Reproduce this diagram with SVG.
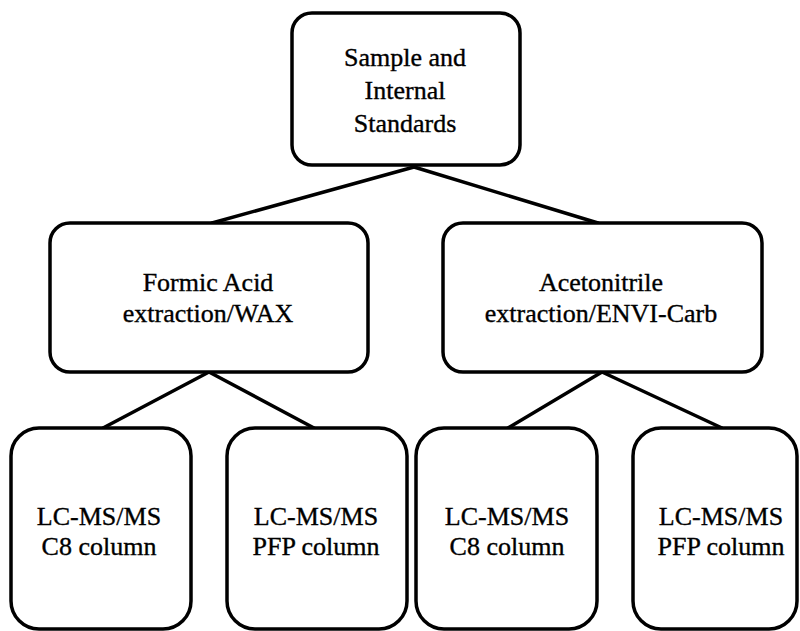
<svg xmlns="http://www.w3.org/2000/svg" width="800" height="631" viewBox="0 0 800 631">
<style>
.box{fill:#fff;stroke:#000;stroke-width:3.5}
.lbl{font-family:"Liberation Serif","Times New Roman",serif;font-size:26px;text-anchor:middle;fill:#000;stroke:#000;stroke-width:0.35}
.conn line{stroke:#000;stroke-width:3.5;stroke-linecap:round}
</style>
<rect width="800" height="631" fill="#fff"/>
<g class="conn" id="connectors">
<line x1="414" y1="167" x2="212" y2="223"/>
<line x1="414" y1="167" x2="598" y2="223"/>
<line x1="209" y1="372" x2="103" y2="428"/>
<line x1="209" y1="372" x2="314" y2="428"/>
<line x1="602" y1="372" x2="508" y2="428"/>
<line x1="602" y1="372" x2="722" y2="428"/>
</g>
<g id="sample">
<rect class="box" x="292" y="13" width="228" height="152" rx="20"/>
<text class="lbl" x="405" y="66">Sample and</text>
<text class="lbl" x="405" y="99">Internal</text>
<text class="lbl" x="405" y="132">Standards</text>
</g>
<g id="formic">
<rect class="box" x="50" y="223" width="318" height="149" rx="20"/>
<text class="lbl" x="208" y="291">Formic Acid</text>
<text class="lbl" x="208" y="322">extraction/WAX</text>
</g>
<g id="acetonitrile">
<rect class="box" x="443" y="223" width="319" height="149" rx="20"/>
<text class="lbl" x="601" y="291">Acetonitrile</text>
<text class="lbl" x="601" y="322">extraction/ENVI-Carb</text>
</g>
<g id="fa-c8">
<rect class="box" x="11" y="428" width="180" height="201" rx="28"/>
<text class="lbl" x="99" y="525">LC-MS/MS</text>
<text class="lbl" x="99" y="555">C8 column</text>
</g>
<g id="fa-pfp">
<rect class="box" x="227" y="428" width="180" height="201" rx="28"/>
<text class="lbl" x="316" y="525">LC-MS/MS</text>
<text class="lbl" x="316" y="555">PFP column</text>
</g>
<g id="ac-c8">
<rect class="box" x="416" y="428" width="181" height="201" rx="28"/>
<text class="lbl" x="507" y="525">LC-MS/MS</text>
<text class="lbl" x="507" y="555">C8 column</text>
</g>
<g id="ac-pfp">
<rect class="box" x="633" y="428" width="164" height="201" rx="28"/>
<text class="lbl" x="721" y="525">LC-MS/MS</text>
<text class="lbl" x="721" y="555">PFP column</text>
</g>
</svg>
